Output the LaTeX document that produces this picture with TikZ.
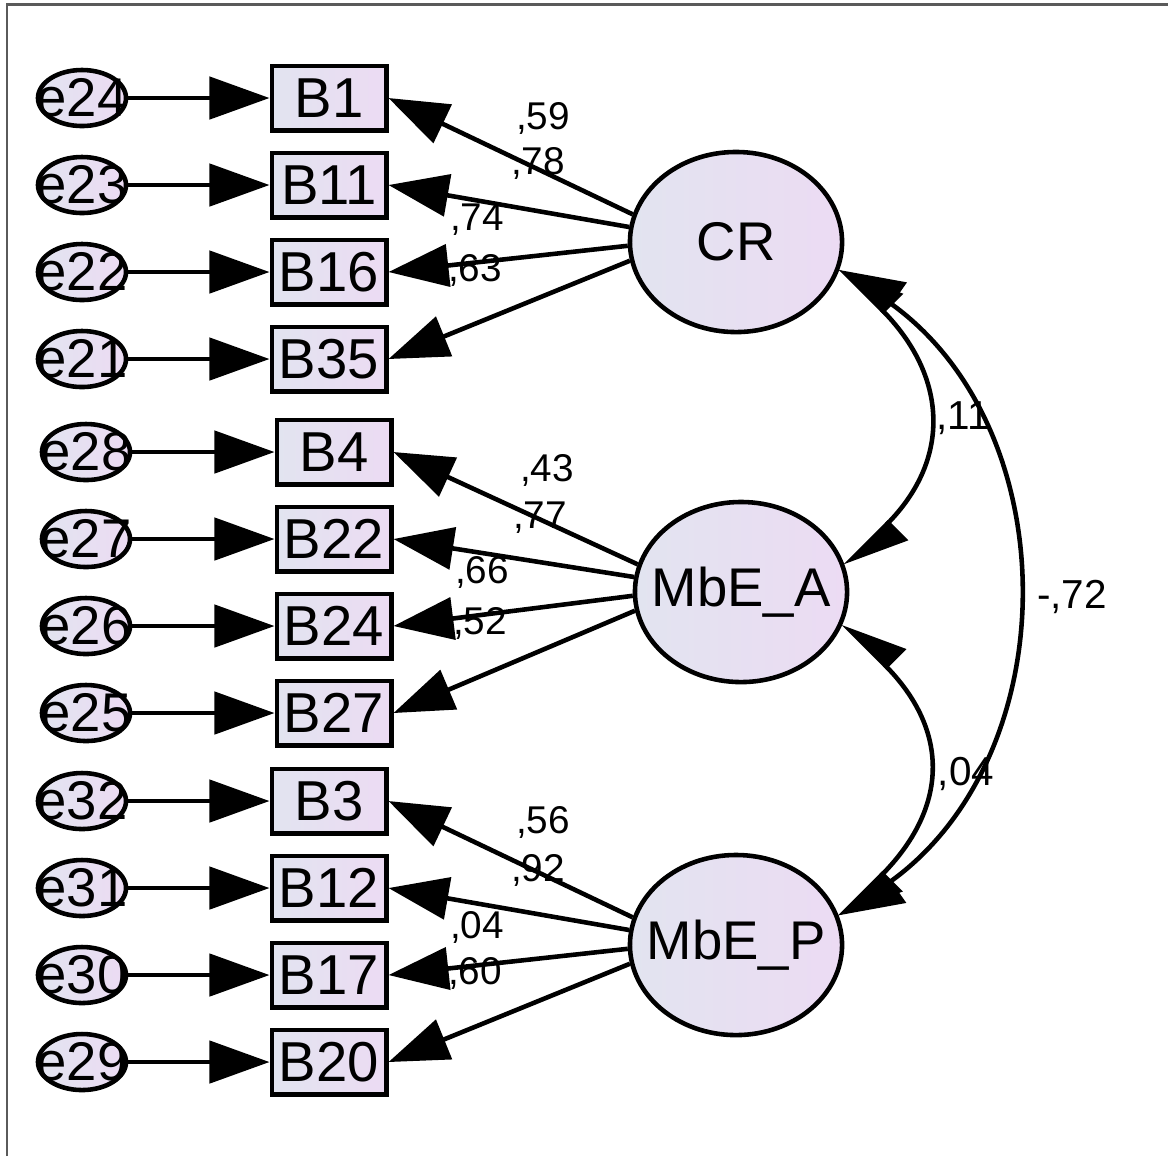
\documentclass[tikz,border=0pt]{standalone}
\usepackage{fontspec}
\setmainfont{Liberation Sans}
\usetikzlibrary{shapes.geometric,arrows.meta}
\definecolor{fillL}{RGB}{226,228,240}
\definecolor{fillR}{RGB}{236,219,243}
\definecolor{framegray}{RGB}{90,90,90}

\begin{document}
\begin{tikzpicture}[x=0.01cm, y=0.01cm,
    obs/.style={draw, rectangle, line width=1.4pt, minimum width=1.14cm, minimum height=0.64cm, inner sep=0pt,
      left color=fillL, right color=fillR, font=\fontsize{16}{16}\selectfont},
    err/.style={draw, ellipse, line width=1.3pt, minimum width=0.88cm, minimum height=0.56cm, inner sep=0pt,
      left color=fillL, right color=fillR, label={[font=\fontsize{15.5}{15.5}\selectfont]center:#1}},
    lat/.style={draw, ellipse, line width=1.3pt, minimum width=2.12cm, minimum height=1.8cm, inner sep=0pt,
      left color=fillL, right color=fillR, label={[font=\fontsize{15.5}{15.5}\selectfont]center:#1}},
    regarr/.style={line width=1.3pt, -{Triangle[length=0.6cm, width=0.42cm]}},
    covarr/.style={line width=1.3pt, {Triangle[harpoon, swap, length=0.58cm, width=0.52cm]}-{Triangle[harpoon, length=0.58cm, width=0.52cm]}},
    num/.style={inner sep=0pt, font=\fontsize{11}{11}\selectfont}]
  \useasboundingbox (0,0) rectangle (1168,-1156);
  % frame
  \draw[framegray, line width=0.7pt] (7,-1156) |- (1168,-4.5);

  % latent variables
  \node[lat=CR] (CR) at (736,-242) {};
  \node[lat=MbE\_A] (MbEA) at (741,-592) {};
  \node[lat=MbE\_P] (MbEP) at (736,-945) {};

  % CR items
  \foreach \e/\b/\y/\ang in {24/1/98/165, 23/11/185/172, 22/16/272/182, 21/35/359/190} {
    \node[err=e\e] (e\e) at (82,-\y) {};
    \node[obs] (B\b) at (329,-\y) {B\b};
    \draw[regarr] (e\e) -- (B\b);
    \draw[regarr] (CR.\ang) -- (B\b.east);
  }
  \foreach \v/\dx/\dy in {59/-193/124, 78/-198/79, 74/-259/22, 63/-261/-28}
    \node[num] at ([shift={(\dx,\dy)}]CR) {,\v};

  % MbE_A items
  \foreach \e/\b/\y/\ang in {28/4/452/165, 27/22/539/172, 26/24/626/182, 25/27/713/190} {
    \node[err=e\e] (e\e) at (86,-\y) {};
    \node[obs] (B\b) at (334,-\y) {B\b};
    \draw[regarr] (e\e) -- (B\b);
    \draw[regarr] (MbEA.\ang) -- (B\b.east);
  }
  \foreach \v/\dx/\dy in {43/-194/122, 77/-201/74, 66/-259/20, 52/-261/-31}
    \node[num] at ([shift={(\dx,\dy)}]MbEA) {,\v};

  % MbE_P items
  \foreach \e/\b/\y/\ang in {32/3/801/165, 31/12/888/172, 30/17/975/182, 29/20/1062/190} {
    \node[err=e\e] (e\e) at (82,-\y) {};
    \node[obs] (B\b) at (329,-\y) {B\b};
    \draw[regarr] (e\e) -- (B\b);
    \draw[regarr] (MbEP.\ang) -- (B\b.east);
  }
  \foreach \v/\dx/\dy in {56/-193/123, 92/-198/75, 04/-259/18, 60/-261/-28}
    \node[num] at ([shift={(\dx,\dy)}]MbEP) {,\v};

  % covariances
  \draw[covarr] (CR.-14) to[out=-45, in=45, looseness=1.3] (MbEA.14);
  \draw[covarr] (MbEA.-17) to[out=-45, in=45, looseness=1.33] (MbEP.15);
  \draw[covarr] (CR.-14) to[out=-35, in=35, looseness=1.1] (MbEP.15);
  \node[num, font=\fontsize{11.5}{11.5}\selectfont] at (963,-418) {,11};
  \node[num, font=\fontsize{11.5}{11.5}\selectfont] at (966,-774) {,04};
  \node[num, font=\fontsize{11.5}{11.5}\selectfont] at (1072,-597) {-,72};
\end{tikzpicture}
\end{document}
